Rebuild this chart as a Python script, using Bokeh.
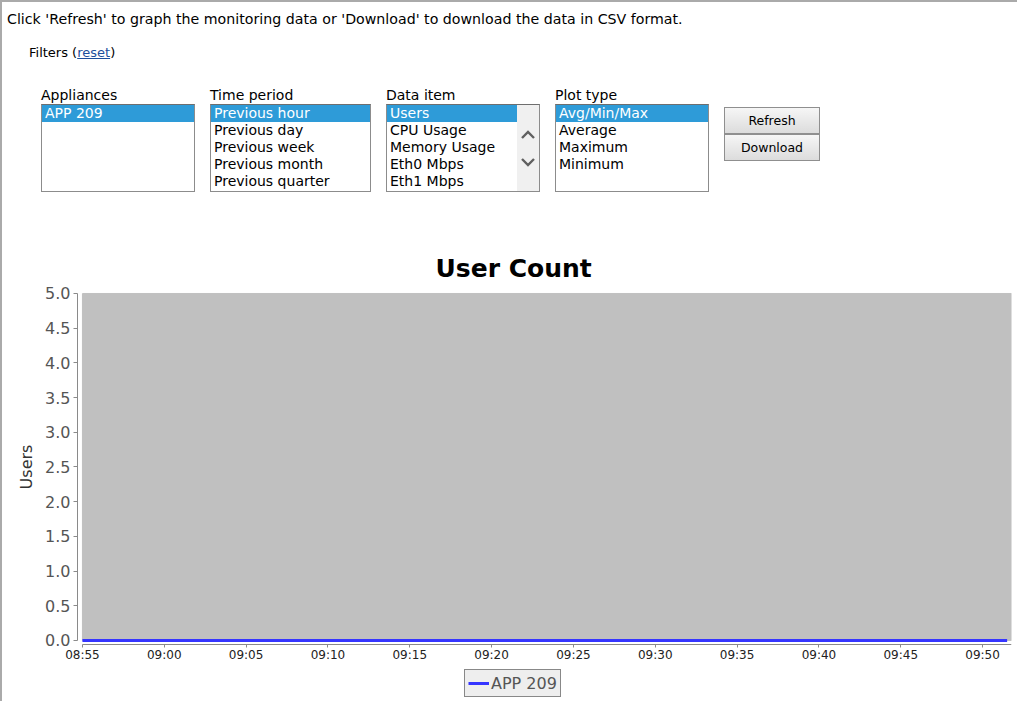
import pandas as pd
from bokeh.plotting import figure
from bokeh.models import (Div, FixedTicker, PrintfTickFormatter, BoxAnnotation,
                          Legend, LegendItem, Range1d, ColumnDataSource)
from bokeh.layouts import column
from bokeh.embed import file_html
from bokeh.resources import INLINE

# ---------------- data ----------------
chart_title = "User Count"
series_name = "APP 209"
y_label = "Users"
day = "2024-01-01 "
times = ["08:55", "08:56", "08:57", "08:58", "08:59", "09:00", "09:01", "09:02",
         "09:03", "09:04", "09:05", "09:06", "09:07", "09:08", "09:09", "09:10",
         "09:11", "09:12", "09:13", "09:14", "09:15", "09:16", "09:17", "09:18",
         "09:19", "09:20", "09:21", "09:22", "09:23", "09:24", "09:25", "09:26",
         "09:27", "09:28", "09:29", "09:30", "09:31", "09:32", "09:33", "09:34",
         "09:35", "09:36", "09:37", "09:38", "09:39", "09:40", "09:41", "09:42",
         "09:43", "09:44", "09:45", "09:46", "09:47", "09:48", "09:49", "09:50",
         "09:51", "09:51:30"]
users = [0, 0, 0, 0, 0, 0, 0, 0, 0, 0, 0, 0, 0, 0, 0, 0, 0, 0, 0, 0,
         0, 0, 0, 0, 0, 0, 0, 0, 0, 0, 0, 0, 0, 0, 0, 0, 0, 0, 0, 0,
         0, 0, 0, 0, 0, 0, 0, 0, 0, 0, 0, 0, 0, 0, 0, 0, 0, 0]
y_ticks = [0.0, 0.5, 1.0, 1.5, 2.0, 2.5, 3.0, 3.5, 4.0, 4.5, 5.0]
x_tick_labels = ["08:55", "09:00", "09:05", "09:10", "09:15", "09:20",
                 "09:25", "09:30", "09:35", "09:40", "09:45", "09:50"]
y_max = 5.0
x_end = "09:51:46"

appliances = ["APP 209"]
time_periods = ["Previous hour", "Previous day", "Previous week",
                "Previous month", "Previous quarter"]
data_items = ["Users", "CPU Usage", "Memory Usage", "Eth0 Mbps", "Eth1 Mbps"]
plot_types = ["Avg/Min/Max", "Average", "Maximum", "Minimum"]
buttons = ["Refresh", "Download"]
headline = ("Click 'Refresh' to graph the monitoring data or 'Download' "
            "to download the data in CSV format.")


def ts(s):
    return pd.to_datetime(day + s, format="mixed")


def ms(x):
    return x.value // 10**6


# ---------------- form (HTML) ----------------
FONT = "'DejaVu Sans'"


def listbox(left, width, label, items, scroll=False):
    h = []
    h.append(f'<div style="position:absolute;left:{left}px;top:85px;font-size:14px;'
             f'line-height:16px;white-space:nowrap;">{label}</div>')
    h.append(f'<div style="position:absolute;left:{left}px;top:102px;width:{width}px;'
             f'height:88px;box-sizing:border-box;border:1px solid #8c8c8c;'
             f'border-top-color:#6e6e6e;background:#fff;overflow:hidden;">')
    inner = width - 2 - (22 if scroll else 0)
    for i, it in enumerate(items):
        sel = i == 0
        bg = "background:#2e9bd8;color:#fff;" if sel else "color:#000;"
        h.append(f'<div style="position:absolute;left:0;top:{i * 17}px;width:{inner}px;'
                 f'height:17px;line-height:17px;font-size:14px;padding-left:3px;'
                 f'box-sizing:border-box;white-space:nowrap;{bg}">{it}</div>')
    if scroll:
        h.append(f'<div style="position:absolute;left:{inner}px;top:0;width:22px;'
                 f'height:86px;background:#f0f0f0;">'
                 f'<svg width="22" height="86" style="position:absolute;left:0;top:0;">'
                 f'<polyline points="5,33 11,27 17,33" stroke="#606060" stroke-width="2.4" fill="none"/>'
                 f'<polyline points="5,54 11,60 17,54" stroke="#606060" stroke-width="2.4" fill="none"/>'
                 f'</svg></div>')
    h.append('</div>')
    return "".join(h)


def button(top, text):
    return (f'<div style="position:absolute;left:722px;top:{top}px;width:96px;height:27px;'
            f'box-sizing:border-box;border:1px solid #8f8f8f;'
            f'background:linear-gradient(#f6f6f6,#dcdcdc);text-align:center;'
            f'font-size:12.5px;line-height:25px;color:#000;">{text}</div>')


html = (f'<div style="position:relative;width:1015px;height:230px;font-family:{FONT};'
        f'color:#000;">'
        f'<div style="position:absolute;left:5px;top:8px;font-size:14.2px;line-height:18px;'
        f'white-space:nowrap;">{headline}</div>'
        f'<div style="position:absolute;left:27px;top:43px;font-size:13px;line-height:16px;'
        f'white-space:nowrap;">Filters (<span style="color:#1d4f9c;text-decoration:underline;">'
        f'reset</span>)</div>'
        + listbox(39, 154, "Appliances", appliances)
        + listbox(208, 161, "Time period", time_periods)
        + listbox(384, 154, "Data item", data_items, scroll=True)
        + listbox(553, 154, "Plot type", plot_types)
        + button(105, buttons[0]) + button(132, buttons[1])
        + '</div>')

form = Div(text=html, width=1015, height=230, margin=0)

# ---------------- chart ----------------
t = pd.to_datetime([day + s for s in times], format="mixed")
src = ColumnDataSource(dict(t=t, users=users))
t0 = t[0]
t_end = ts(x_end)
frame_start = t0 - pd.Timedelta(seconds=293)   # room for y-axis labels
y_axis_at = t0 - pd.Timedelta(seconds=18)      # y axis a few px left of plot area
x_axis_at = -0.0576                            # x axis a few px below plot area

p = figure(width=1015, height=469, x_axis_type="datetime",
           output_backend="svg", toolbar_location=None,
           x_range=Range1d(frame_start, t_end),
           y_range=Range1d(-0.879, 5.144),
           min_border_left=0, min_border_right=6,
           min_border_top=51, min_border_bottom=0, margin=0)
p.outline_line_color = None
p.background_fill_color = "white"
p.border_fill_color = "white"
p.grid.visible = False

p.title.text = chart_title
p.title.text_font = "DejaVu Sans"
p.title.text_font_size = "25px"
p.title.text_font_style = "bold"
p.title.text_color = "#000000"
p.title.align = "left"
p.title.offset = 433
p.title.standoff = 2

plot_area = BoxAnnotation(left=t0, bottom=0, top=y_max, fill_color="#c0c0c0",
                          fill_alpha=1, line_color="#7f7f7f", line_width=1,
                          level="underlay")
p.add_layout(plot_area)

r = p.line("t", "users", source=src, line_color="#3535ff", line_width=3)

# y axis
p.yaxis.ticker = FixedTicker(ticks=y_ticks, minor_ticks=[])
p.yaxis.formatter = PrintfTickFormatter(format="%.1f")
p.yaxis.bounds = (0, y_max)
p.yaxis.fixed_location = ms(y_axis_at)
p.yaxis.axis_label = y_label
p.yaxis.axis_label_text_font = "DejaVu Sans"
p.yaxis.axis_label_text_font_size = "16px"
p.yaxis.axis_label_text_font_style = "normal"
p.yaxis.axis_label_text_color = "#333333"
p.yaxis.axis_label_standoff = 6
p.yaxis.major_label_text_font = "DejaVu Sans"
p.yaxis.major_label_text_font_size = "16px"
p.yaxis.major_label_text_color = "#555555"
p.yaxis.major_label_standoff = 3
p.yaxis.major_tick_out = 4
p.yaxis.major_tick_in = 0
p.yaxis.minor_tick_out = 0
p.yaxis.axis_line_color = "#8a8a8a"
p.yaxis.major_tick_line_color = "#8a8a8a"

# x axis
tick_ms = [ms(ts(s)) for s in x_tick_labels]
p.xaxis.ticker = FixedTicker(ticks=tick_ms, minor_ticks=[])
p.xaxis.major_label_overrides = {m: lab for m, lab in zip(tick_ms, x_tick_labels)}
p.xaxis.bounds = (ms(t0), ms(t_end))
p.xaxis.fixed_location = x_axis_at
p.xaxis.major_label_text_font = "DejaVu Sans"
p.xaxis.major_label_text_font_size = "12px"
p.xaxis.major_label_text_color = "#222222"
p.xaxis.major_label_standoff = 1
p.xaxis.major_tick_out = 3
p.xaxis.major_tick_in = 0
p.xaxis.minor_tick_out = 0
p.xaxis.axis_line_color = "#8a8a8a"
p.xaxis.major_tick_line_color = "#8a8a8a"

legend = Legend(items=[LegendItem(label=series_name, renderers=[r])],
                location=(462, 4), orientation="horizontal",
                glyph_width=21, glyph_height=20, label_height=20,
                label_standoff=2, padding=3, margin=0, spacing=0,
                label_text_font="DejaVu Sans", label_text_font_size="16px",
                label_text_color="#555555",
                border_line_color="#222222", border_line_width=1,
                background_fill_color="#eeeeee", background_fill_alpha=1)
p.add_layout(legend, "center")

layout = column(form, p, margin=0,
                styles={"border-top": "2px solid #aaaaaa", "border-left": "2px solid #aaaaaa"})

open("out.html", "w").write(file_html(layout, INLINE))
